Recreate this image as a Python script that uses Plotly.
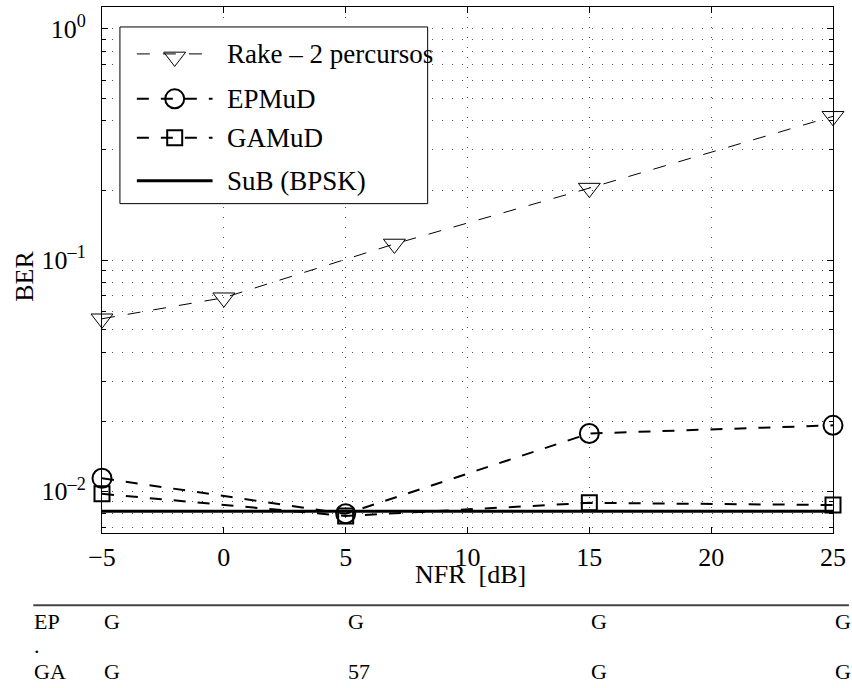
import plotly.graph_objects as go

# ---- data -------------------------------------------------------------
nfr_rake = [-5, 0, 7, 15, 25]
ber_rake = [0.0558, 0.0688, 0.1175, 0.205, 0.419]

nfr_mud = [-5, 5, 15, 25]
ber_epmud = [0.0114, 0.0080, 0.0178, 0.0193]
ber_gamud = [0.00976, 0.00783, 0.00892, 0.00873]

nfr_sub = [-5, 25]
ber_sub = [0.0082, 0.0082]

x_tickvals = [-5, 0, 5, 10, 15, 20, 25]
y_tickvals = [0.01, 0.1, 1]
y_ticktext = ["10<sup>\u20132</sup>", "10<sup>\u20131</sup>", "10<sup>0</sup>"]

legend_labels = ["Rake \u2013 2 percursos", "EPMuD", "GAMuD", "SuB (BPSK)"]

table_cols = [-5, 5, 15, 25]
table_row_names = ["EP", "GA"]
table_ep = ["G", "G", "G", "G"]
table_ga = ["G", "57", "G", "G"]

# ---- geometry ---------------------------------------------------------
W, H = 852, 688
ML, MR, MT, MB = 102, 16, 6, 155
PW, PH = W - ML - MR, H - MT - MB

FONT = "Liberation Serif, Times New Roman, serif"
GRID = "#555555"
GRID_DASH = "1px,9px"


def px2x(px):
    return (px - ML) / PW


def py2y(py):
    return (H - MB - py) / PH


fig = go.Figure()

# ---- curves -----------------------------------------------------------
fig.add_trace(go.Scatter(
    x=nfr_rake, y=ber_rake, mode="lines+markers", name=legend_labels[0],
    line=dict(color="black", width=1, dash="13px,13px"),
    marker=dict(symbol="triangle-down-open", size=19, color="black",
                line=dict(width=1, color="black")),
    cliponaxis=False, showlegend=False))
fig.add_trace(go.Scatter(
    x=nfr_mud, y=ber_epmud, mode="lines+markers", name=legend_labels[1],
    line=dict(color="black", width=2, dash="12px,12px"),
    marker=dict(symbol="circle-open", size=19, color="black",
                line=dict(width=2, color="black")),
    cliponaxis=False, showlegend=False))
fig.add_trace(go.Scatter(
    x=nfr_mud, y=ber_gamud, mode="lines+markers", name=legend_labels[2],
    line=dict(color="black", width=2, dash="12px,12px"),
    marker=dict(symbol="square-open", size=15, color="black",
                line=dict(width=2, color="black")),
    cliponaxis=False, showlegend=False))
fig.add_trace(go.Scatter(
    x=nfr_sub, y=ber_sub, mode="lines", name=legend_labels[3],
    line=dict(color="black", width=3),
    cliponaxis=False, showlegend=False))

# ---- legend box (pixel overlay axes: x from plot left, y from plot top) --
bx0, bx1, by0, by1 = 120 - ML, 429 - ML, 26 - MT, 203 - MT
fig.add_trace(go.Scatter(
    x=[bx0, bx1, bx1, bx0, bx0], y=[by0, by0, by1, by1, by0],
    mode="lines", fill="toself", fillcolor="white",
    line=dict(color="black", width=1), xaxis="x2", yaxis="y2",
    hoverinfo="skip", showlegend=False))

sample_styles = [
    dict(line=dict(color="black", width=1, dash="13px,13px"),
         symbol="triangle-down-open", size=19, mlw=1),
    dict(line=dict(color="black", width=2, dash="12px,12px"),
         symbol="circle-open", size=19, mlw=2),
    dict(line=dict(color="black", width=2, dash="12px,12px"),
         symbol="square-open", size=15, mlw=2),
    dict(line=dict(color="black", width=3), symbol=None, size=0, mlw=0),
]
row_y = [53 - MT, 98 - MT, 137 - MT, 180 - MT]
lx0, lxm, lx1 = 137 - ML, 175 - ML, 213 - ML
for label, st, ry in zip(legend_labels, sample_styles, row_y):
    fig.add_trace(go.Scatter(
        x=[lx0, lx1], y=[ry, ry], mode="lines", line=st["line"],
        xaxis="x2", yaxis="y2", hoverinfo="skip", showlegend=False))
    if st["symbol"]:
        fig.add_trace(go.Scatter(
            x=[lxm], y=[ry + (3 if "triangle" in st["symbol"] else 0)],
            mode="markers", xaxis="x2", yaxis="y2",
            marker=dict(symbol=st["symbol"], size=st["size"], color="black",
                        line=dict(width=st["mlw"], color="black")),
            hoverinfo="skip", showlegend=False))
    fig.add_annotation(x=226 - ML, y=ry, xref="x2", yref="y2", text=label,
                       showarrow=False, xanchor="left", yanchor="middle",
                       font=dict(family=FONT, size=27, color="black"))

# ---- axis titles ------------------------------------------------------
fig.add_annotation(x=px2x(472), y=py2y(575), xref="paper", yref="paper",
                   text="NFR\u00a0 [dB]", showarrow=False,
                   xanchor="center", yanchor="middle",
                   font=dict(family=FONT, size=26, color="black"))
fig.add_annotation(x=px2x(24), y=py2y(276), xref="paper", yref="paper",
                   text="BER", showarrow=False, textangle=-90,
                   xanchor="center", yanchor="middle",
                   font=dict(family=FONT, size=26, color="black"))

# ---- table under the chart --------------------------------------------
fig.add_shape(type="line", xref="paper", yref="paper",
              x0=px2x(33), x1=px2x(852), y0=py2y(605.5), y1=py2y(605.5),
              line=dict(color="#444444", width=2))
row_centers = [621.5, 672]
for name, vals, cy in zip(table_row_names, [table_ep, table_ga], row_centers):
    fig.add_annotation(x=px2x(32), y=py2y(cy), xref="paper", yref="paper",
                       text=name, showarrow=False, xanchor="left",
                       yanchor="middle",
                       font=dict(family=FONT, size=22, color="black"))
    for cx, v in zip(table_cols, vals):
        fig.add_annotation(x=cx, y=py2y(cy), xref="x", yref="paper",
                           text=v, showarrow=False, xanchor="left",
                           yanchor="middle", xshift=0,
                           font=dict(family=FONT, size=22, color="black"))
fig.add_annotation(x=px2x(32), y=py2y(646), xref="paper", yref="paper",
                   text=".", showarrow=False, xanchor="left", yanchor="middle",
                   font=dict(family=FONT, size=22, color="black"))

# ---- layout -----------------------------------------------------------
fig.update_layout(
    width=W, height=H,
    margin=dict(l=ML, r=MR, t=MT, b=MB, pad=0),
    paper_bgcolor="white", plot_bgcolor="white",
    font=dict(family=FONT, size=26, color="black"),
    showlegend=False,
    xaxis=dict(
        range=[-5, 25], tickmode="array", tickvals=x_tickvals,
        ticks="inside", ticklen=6, tickcolor="black", tickwidth=1,
        showline=True, linecolor="black", linewidth=1, mirror="ticks",
        showgrid=True, gridcolor=GRID, gridwidth=1, griddash=GRID_DASH,
        zeroline=False, ticklabelstandoff=1,
        tickfont=dict(family=FONT, size=26, color="black"),
    ),
    yaxis=dict(
        type="log", range=[-2.18, 0.095], tickmode="array",
        tickvals=y_tickvals, ticktext=y_ticktext,
        ticks="inside", ticklen=6, tickcolor="black", tickwidth=1,
        showline=True, linecolor="black", linewidth=1, mirror="ticks",
        showgrid=True, gridcolor=GRID, gridwidth=1, griddash=GRID_DASH,
        zeroline=False, ticklabelstandoff=10,
        tickfont=dict(family=FONT, size=26, color="black"),
        minor=dict(dtick="D1", ticks="inside", ticklen=4, tickcolor="black",
                   showgrid=True, gridcolor=GRID, gridwidth=1,
                   griddash=GRID_DASH),
    ),
    xaxis2=dict(overlaying="x", range=[0, PW], visible=False,
                showgrid=False, zeroline=False),
    yaxis2=dict(overlaying="y", range=[PH, 0], visible=False,
                showgrid=False, zeroline=False),
)

fig.write_html("out.html")
